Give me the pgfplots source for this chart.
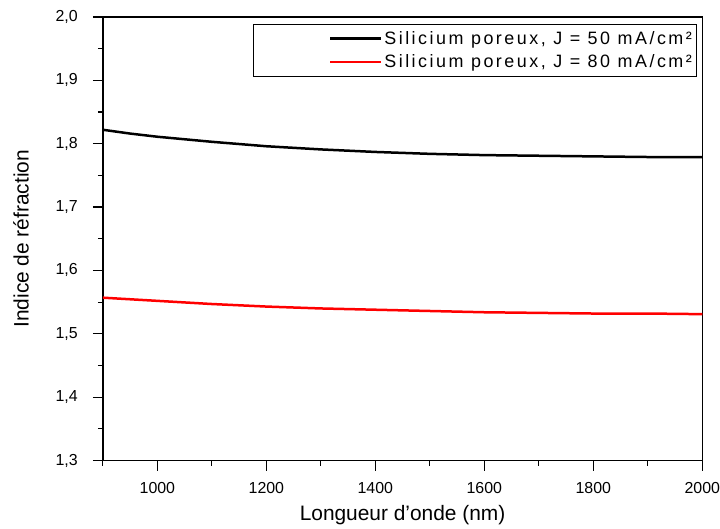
\documentclass[border=0pt]{standalone}
\usepackage{pgfplots}
\pgfplotsset{compat=1.18}
\usepackage{fontspec}
\setmainfont{Liberation Sans}
\newfontfamily\legfont[LetterSpace=14]{Liberation Sans}

\begin{document}
\begin{tikzpicture}
\begin{axis}[
    scale only axis,
    width=600bp, height=444bp,
    xmin=900, xmax=2000,
    ymin=1.3, ymax=2.0,
    xtick={1000,1200,1400,1600,1800,2000},
    minor xtick={900,1100,1300,1500,1700,1900},
    ytick={1.3,1.4,1.5,1.6,1.7,1.8,1.9,2.0},
    minor ytick={1.35,1.45,1.55,1.65,1.75,1.85,1.95},
    xtick align=outside,
    ytick align=outside,
    tick pos=left,
    major tick length=10bp,
    minor tick length=5bp,
    every tick/.style={black, line width=1.2bp},
    axis line style={line width=1.5bp},
    /pgf/number format/assume math mode=true,
    xticklabel style={/pgf/number format/1000 sep={}, font=\fontsize{16}{18}\selectfont, inner sep=0pt, anchor=north, yshift=-12bp},
    yticklabel style={/pgf/number format/.cd, fixed, fixed zerofill, precision=1, use comma, /tikz/.cd, font=\fontsize{16}{18}\selectfont, inner sep=0pt, anchor=east, xshift=-15bp},
    xlabel={Longueur d'onde (nm)},
    ylabel={Indice de réfraction},
    every axis x label/.style={at={(rel axis cs:0.5,0)}, yshift=-55bp, anchor=center},
    every axis y label/.style={at={(rel axis cs:0,0.5)}, xshift=-82bp, rotate=90, anchor=center},
    label style={font=\fontsize{21}{24}\selectfont},
    legend cell align=left,
    legend style={at={(rel axis cs:1,1)}, anchor=north east, xshift=-5bp, yshift=-7bp,
        draw=black, line width=0.8bp, font=\legfont\fontsize{18}{20}\selectfont,
        inner xsep=3bp, inner ysep=5bp, row sep=5bp},
    legend image code/.code={
        \path[draw=none] (0,0) -- (74bp,0);
        \draw[#1, line width=2.5bp] (74bp,0) -- (125bp,0);
    },
]
\addplot[black, line width=2.5bp] coordinates {
(900,1.822)(950,1.816)(1000,1.811)(1100,1.803)(1200,1.796)(1300,1.791)(1400,1.787)(1500,1.784)(1600,1.782)(1700,1.781)(1800,1.780)(1900,1.779)(2000,1.779)
};
\addlegendentry{Silicium poreux, J = 50 mA/cm²}
\addplot[red, line width=2.5bp] coordinates {
(900,1.557)(1000,1.552)(1100,1.547)(1200,1.543)(1300,1.540)(1400,1.538)(1500,1.536)(1600,1.534)(1700,1.533)(1800,1.532)(1900,1.532)(2000,1.531)
};
\addlegendentry{Silicium poreux, J = 80 mA/cm²}
\end{axis}
\path ([shift={(-103bp,-66bp)}]current axis.south west) rectangle ([shift={(17bp,17bp)}]current axis.north east);
\end{tikzpicture}
\end{document}
